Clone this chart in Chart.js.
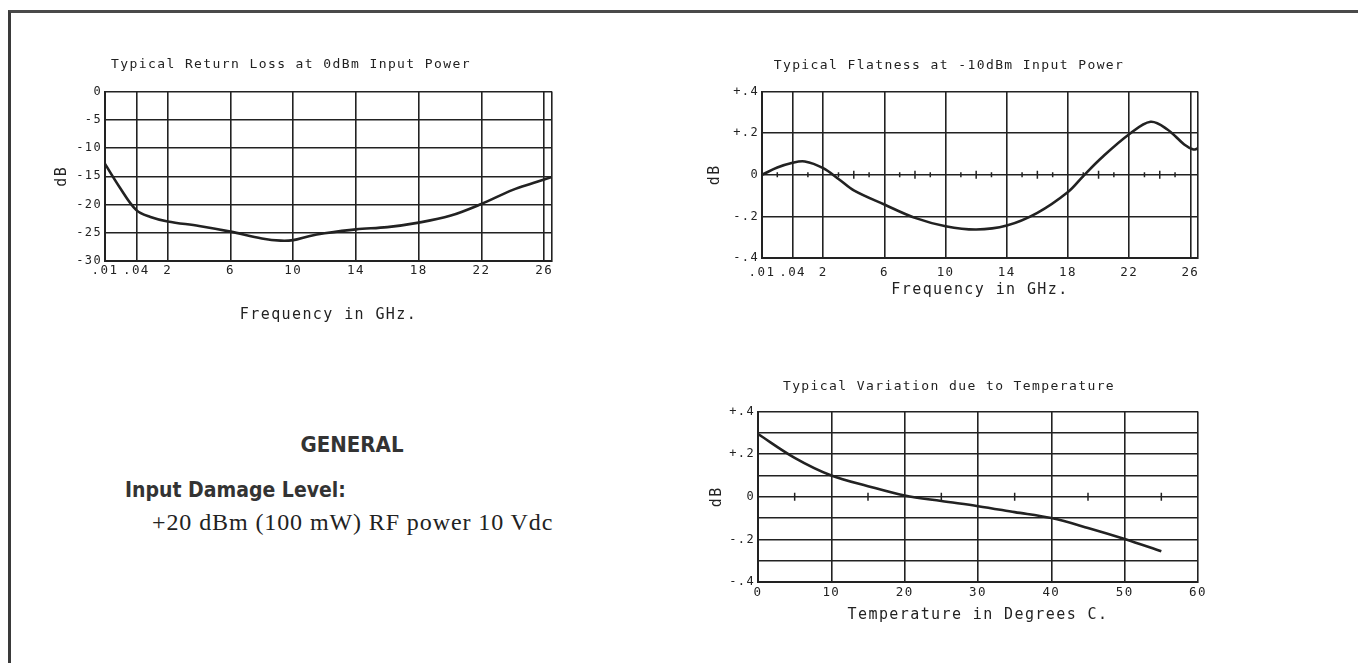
<!DOCTYPE html>
<html>
<head>
<meta charset="utf-8">
<script src="https://cdn.jsdelivr.net/npm/chart.js@4"></script>
<style>
  body { margin: 0; background: #fff; width: 1358px; height: 663px; overflow: hidden; position: relative; }
  .frame { position: absolute; left: 8px; top: 10px; width: 1350px; height: 650px;
           border-top: 3px solid #4a4a4a; border-left: 3px solid #3a3a3a; border-bottom: 1px solid #ccc; }
  .box { position: absolute; }
  .general { position: absolute; left: 292px; top: 430px; width: 120px; text-align: center;
             font-family: "Liberation Sans Narrow", "DejaVu Sans Condensed", sans-serif; font-weight: bold;
             font-size: 22px; color: #333; line-height: 30px; }
  .damage { position: absolute; left: 125px; top: 476px;
            font-family: "Liberation Sans Narrow", "DejaVu Sans Condensed", sans-serif; font-weight: bold;
            font-size: 21px; color: #333; line-height: 28px; }
  .power { position: absolute; left: 152px; top: 507px; white-space: nowrap; letter-spacing: 0.9px;
           font-family: "Liberation Serif", serif; font-size: 24px; color: #222; line-height: 30px; }
</style>
</head>
<body>
<div class="frame"></div>
<div class="box" style="left:30px;top:50px;width:560px;height:290px"><canvas id="returnLoss"></canvas></div>
<div class="box" style="left:700px;top:50px;width:520px;height:250px"><canvas id="flatness"></canvas></div>
<div class="box" style="left:700px;top:370px;width:520px;height:260px"><canvas id="temperature"></canvas></div>
<div class="general">GENERAL</div>
<div class="damage">Input Damage Level:</div>
<div class="power">+20 dBm (100 mW) RF power 10 Vdc</div>
<script>
// frequency axis is broken below 2 GHz: .01 and .04 sit at axis units -2 and 0
const freqTickPos = [-2, 0, 2, 6, 10, 14, 18, 22, 26, 26.5];
const freqTickLabels = ['.01', '.04', '2', '6', '10', '14', '18', '22', '26', ''];

// Typical Return Loss at 0dBm
const returnLossFreq = [-2, -1.1, 0, 0.9, 2, 4, 6, 8, 9.2, 10, 11, 12, 14, 16, 18, 20, 22, 24, 25.3, 26.5];
const returnLossDb = [-12.8, -16.8, -21, -22.2, -23, -23.8, -24.8, -26, -26.4, -26.3, -25.6, -25.1, -24.4, -24, -23.2, -22, -19.9, -17.4, -16.2, -15.1];
const returnLossTicks = [0, -5, -10, -15, -20, -25, -30];

// Typical Flatness at -10dBm
const flatnessFreq = [-2, -1, 0, 0.8, 2, 3, 4, 6, 8, 10, 12, 14, 16, 18, 19, 20.2, 22, 23.4, 24.5, 25.6, 26.2, 26.5];
const flatnessDb = [0, 0.035, 0.058, 0.064, 0.032, -0.02, -0.075, -0.143, -0.207, -0.247, -0.263, -0.244, -0.183, -0.083, -0.006, 0.082, 0.195, 0.255, 0.218, 0.146, 0.122, 0.127];
const flatnessTicks = [0.4, 0.2, 0, -0.2, -0.4];
const flatnessTickLabels = ['+.4', '+.2', '0', '-.2', '-.4'];
const flatMinorTicks = [-1, 1, 3, 5, 7, 9, 11, 13, 15, 17, 19, 21, 23, 25];
const flatMajorTicks = [4, 8, 12, 16, 20, 24];

// Typical Variation due to Temperature
const tempC = [0, 5, 10, 15, 20, 25, 30, 35, 40, 45, 50, 55];
const tempDb = [0.295, 0.183, 0.1, 0.05, 0.006, -0.02, -0.044, -0.072, -0.1, -0.146, -0.198, -0.256];
const tempGridTicks = [0.4, 0.3, 0.2, 0.1, 0, -0.1, -0.2, -0.3, -0.4];
const tempTickLabels = ['+.4', '', '+.2', '', '0', '', '-.2', '', '-.4'];
const tempMarks = [5, 15, 25, 35, 45, 55];

const ink = '#222';
const mono = "'DejaVu Sans Mono', 'Liberation Mono', monospace";

const spacing = {
    id: 'spacing',
    beforeLayout(chart) { chart.ctx.letterSpacing = '1.4px'; },
    beforeDraw(chart) { chart.ctx.letterSpacing = '1.4px'; }
};

function pts(xs, ys) {
    return xs.map((x, i) => ({ x: x, y: ys[i] }));
}

function marks(xs, r) {
    return {
        data: xs.map(x => ({ x: x, y: 0 })),
        showLine: false,
        pointStyle: 'line',
        rotation: 90,
        pointRadius: r,
        borderColor: ink,
        borderWidth: 1.5
    };
}

function curve(data) {
    return {
        data: data,
        showLine: true,
        borderColor: ink,
        borderWidth: 2.6,
        pointRadius: 0,
        tension: 0.35,
        fill: false
    };
}

function makeChart(id, o) {
    return new Chart(document.getElementById(id), {
        type: 'scatter',
        data: { datasets: o.datasets },
        options: {
            responsive: true,
            maintainAspectRatio: false,
            animation: false,
            layout: { padding: { left: 0, right: o.right, top: 0, bottom: 0 } },
            plugins: {
                legend: { display: false },
                tooltip: { enabled: false },
                title: {
                    display: true,
                    text: o.title,
                    color: ink,
                    font: { family: mono, size: 13, weight: 'normal' },
                    padding: { top: o.t1, bottom: o.t2 }
                }
            },
            scales: {
                x: {
                    type: 'linear',
                    min: o.xmin,
                    max: o.xmax,
                    afterBuildTicks: s => { s.ticks = o.xTicks.map(v => ({ value: v })); },
                    afterFit: s => { s.height = o.xh; },
                    ticks: {
                        autoSkip: false,
                        maxRotation: 0,
                        padding: o.xpad,
                        color: ink,
                        font: { family: mono, size: 12.5 },
                        callback: (v, i) => o.xLabels[i]
                    },
                    grid: { color: ink, lineWidth: 1.6, drawTicks: false },
                    border: { color: ink, width: 2 },
                    title: {
                        display: true,
                        text: o.xTitle,
                        color: ink,
                        font: { family: mono, size: 15 },
                        padding: { top: 0, bottom: o.xtb }
                    }
                },
                y: {
                    type: 'linear',
                    min: o.ymin,
                    max: o.ymax,
                    afterBuildTicks: s => { s.ticks = o.yTicks.map(v => ({ value: v })); },
                    afterFit: s => { s.width = o.yw; },
                    ticks: {
                        autoSkip: false,
                        padding: 3,
                        color: ink,
                        font: { family: mono, size: 12 },
                        callback: (v, i) => o.yLabels[i]
                    },
                    grid: { color: ink, lineWidth: 1.6, drawTicks: false },
                    border: { color: ink, width: 2 },
                    title: {
                        display: true,
                        text: 'dB',
                        color: ink,
                        font: { family: mono, size: 15 },
                        padding: { top: o.ytp, bottom: 0 }
                    }
                }
            }
        },
        plugins: [spacing]
    });
}

makeChart('returnLoss', {
    title: 'Typical Return Loss at 0dBm Input Power',
    xTitle: 'Frequency in GHz.',
    datasets: [curve(pts(returnLossFreq, returnLossDb))],
    xmin: -2, xmax: 26.5, xTicks: freqTickPos, xLabels: freqTickLabels,
    ymin: -30, ymax: 0, yTicks: returnLossTicks, yLabels: returnLossTicks.map(String),
    right: 38, t1: 7, t2: 19, yw: 75, ytp: 23, xh: 79, xpad: 2, xtb: 16
});

makeChart('flatness', {
    title: 'Typical Flatness at -10dBm Input Power',
    xTitle: 'Frequency in GHz.',
    datasets: [marks(flatMinorTicks, 2.5), marks(flatMajorTicks, 4), curve(pts(flatnessFreq, flatnessDb))],
    xmin: -2, xmax: 26.5, xTicks: freqTickPos, xLabels: freqTickLabels,
    ymin: -0.4, ymax: 0.4, yTicks: flatnessTicks, yLabels: flatnessTickLabels,
    right: 22, t1: 8, t2: 18, yw: 62, ytp: 6, xh: 42, xpad: 7, xtb: 1
});

makeChart('temperature', {
    title: 'Typical Variation due to Temperature',
    xTitle: 'Temperature in Degrees C.',
    datasets: [marks(tempMarks, 4), curve(pts(tempC, tempDb))],
    xmin: 0, xmax: 60, xTicks: [0, 10, 20, 30, 40, 50, 60], xLabels: ['0', '10', '20', '30', '40', '50', '60'],
    ymin: -0.4, ymax: 0.4, yTicks: tempGridTicks, yLabels: tempTickLabels,
    right: 22, t1: 9, t2: 17, yw: 58, ytp: 8, xh: 48, xpad: 3, xtb: 6
});
</script>
</body>
</html>
